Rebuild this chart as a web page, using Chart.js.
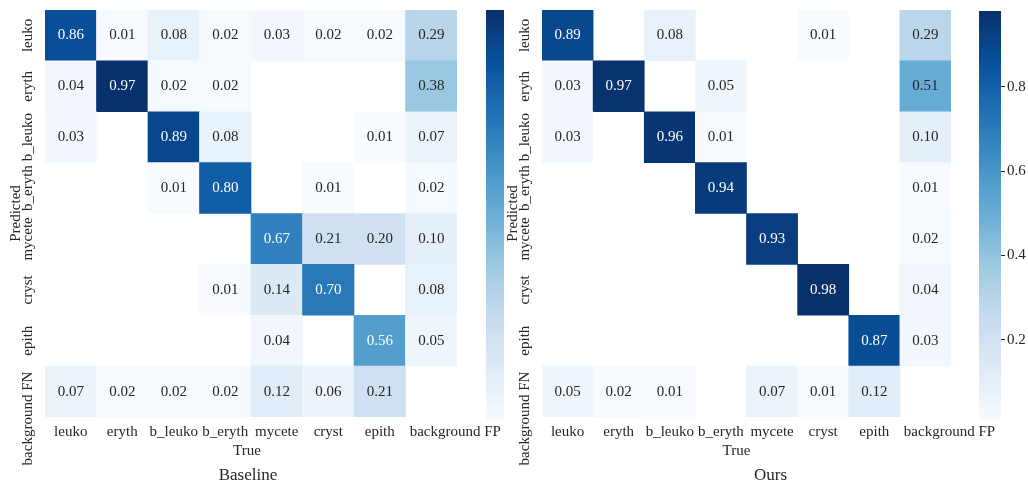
<!DOCTYPE html>
<html>
<head>
<meta charset="utf-8">
<script src="https://cdn.jsdelivr.net/npm/chart.js@4.4.1/dist/chart.umd.min.js"></script>
<style>
  html, body { margin: 0; padding: 0; background: #ffffff; }
  #wrap { position: relative; width: 1028px; height: 485px; overflow: hidden; }
  #wrap canvas { position: absolute; top: 0; }
</style>
</head>
<body>
<div id="wrap">
  <canvas id="cbBase" width="40" height="485" style="left:470px"></canvas>
  <canvas id="hmBase" width="510" height="485" style="left:0px"></canvas>
  <canvas id="hmOurs" width="531" height="485" style="left:497px"></canvas>
  <canvas id="cbOurs" width="68" height="485" style="left:960px"></canvas>
</div>
<script>
// Class names along the two axes
const trueLabels = ['leuko', 'eryth', 'b_leuko', 'b_eryth', 'mycete', 'cryst', 'epith', 'background FP'];
const predLabels = ['leuko', 'eryth', 'b_leuko', 'b_eryth', 'mycete', 'cryst', 'epith', 'background FN'];

// Normalised confusion matrices: one row per predicted class, one column per true class.
// null = empty cell (no samples).
const baseline = [
  [0.86, 0.01, 0.08, 0.02, 0.03, 0.02, 0.02, 0.29],
  [0.04, 0.97, 0.02, 0.02, null, null, null, 0.38],
  [0.03, null, 0.89, 0.08, null, null, 0.01, 0.07],
  [null, null, 0.01, 0.80, null, 0.01, null, 0.02],
  [null, null, null, null, 0.67, 0.21, 0.20, 0.10],
  [null, null, null, 0.01, 0.14, 0.70, null, 0.08],
  [null, null, null, null, 0.04, null, 0.56, 0.05],
  [0.07, 0.02, 0.02, 0.02, 0.12, 0.06, 0.21, null]
];
const ours = [
  [0.89, null, 0.08, null, null, 0.01, null, 0.29],
  [0.03, 0.97, null, 0.05, null, null, null, 0.51],
  [0.03, null, 0.96, 0.01, null, null, null, 0.10],
  [null, null, null, 0.94, null, null, null, 0.01],
  [null, null, null, null, 0.93, null, null, 0.02],
  [null, null, null, null, null, 0.98, null, 0.04],
  [null, null, null, null, null, null, 0.87, 0.03],
  [0.05, 0.02, 0.01, null, 0.07, 0.01, 0.12, null]
];

// Colour bar tick values
const colorbarTicks = [0.2, 0.4, 0.6, 0.8];

const FONT = "'Liberation Serif', 'Times New Roman', serif";
const TEXT = '#262626';
Chart.defaults.font.family = FONT;
Chart.defaults.font.size = 15;
Chart.defaults.color = TEXT;

// "Blues" sequential colour map anchors
const BLUES = [
  [247, 251, 255], [222, 235, 247], [198, 219, 239], [158, 202, 225], [107, 174, 214],
  [66, 146, 198], [33, 113, 181], [8, 81, 156], [8, 48, 107]
];
function blues(t) {
  t = Math.min(1, Math.max(0, t));
  const p = t * (BLUES.length - 1);
  const i = Math.min(BLUES.length - 2, Math.floor(p));
  const f = p - i;
  return BLUES[i].map((v, k) => Math.round(v + (BLUES[i + 1][k] - v) * f));
}
const rgbStr = c => `rgb(${c[0]},${c[1]},${c[2]})`;
function luminance(c) {
  const l = c.map(v => { v /= 255; return v <= 0.03928 ? v / 12.92 : Math.pow((v + 0.055) / 1.055, 2.4); });
  return 0.2126 * l[0] + 0.7152 * l[1] + 0.0722 * l[2];
}
function range(matrix) {
  const vals = matrix.flat().filter(v => v !== null);
  return [Math.min(...vals), Math.max(...vals)];
}

// Draws cell values, rotated row labels, column labels and panel captions
const heatmapText = {
  id: 'heatmapText',
  afterDatasetsDraw(chart, args, opts) {
    const { ctx, chartArea } = chart;
    const xs = chart.scales.x, ys = chart.scales.y;
    ctx.save();
    ctx.font = `15px ${FONT}`;
    ctx.textAlign = 'center';
    ctx.textBaseline = 'middle';

    chart.data.datasets.forEach((ds, di) => {
      chart.getDatasetMeta(di).data.forEach((bar, i) => {
        const v = ds.values[i];
        if (v === null) return;
        const c = bar.getCenterPoint();
        ctx.fillStyle = ds.textColors[i];
        ctx.fillText(v.toFixed(2), c.x, c.y);
      });
    });

    ctx.fillStyle = TEXT;
    // column (true class) labels
    trueLabels.forEach((lab, i) => {
      const dx = i === trueLabels.length - 1 ? opts.lastColShift : 0;
      ctx.fillText(lab, xs.getPixelForTick(i) + dx, chartArea.bottom + 15);
    });
    // row (predicted class) labels, reading bottom to top
    predLabels.forEach((lab, r) => {
      const dy = r === predLabels.length - 1 ? opts.lastRowShift : 0;
      const y = ys.getPixelForValue(predLabels.length - r - 0.5) + dy;
      ctx.save();
      ctx.translate(chartArea.left - 17, y);
      ctx.rotate(-Math.PI / 2);
      ctx.fillText(lab, 0, 0);
      ctx.restore();
    });
    const mid = (chartArea.left + chartArea.right) / 2;
    ctx.fillText('True', mid + opts.axisTitleDx, chartArea.bottom + 34);
    ctx.font = `17px ${FONT}`;
    ctx.fillText(opts.caption, mid + opts.captionDx, chart.height - 9);
    ctx.restore();
  }
};

function heatmap(id, matrix, caption, padRight, axisTitleDx, captionDx) {
  const [vmin, vmax] = range(matrix);
  const norm = v => (v - vmin) / (vmax - vmin);
  // stacked bars build up from the bottom, so the last predicted row goes first
  const datasets = predLabels.map((p, r) => {
    const colors = matrix[r].map(v => v === null ? null : blues(norm(v)));
    return {
      label: p,
      data: trueLabels.map(() => 1),
      values: matrix[r],
      backgroundColor: colors.map(c => c === null ? 'rgba(255,255,255,0)' : rgbStr(c)),
      textColors: colors.map(c => c !== null && luminance(c) < 0.335 ? '#ffffff' : TEXT),
      borderWidth: 0,
      barPercentage: 1,
      categoryPercentage: 1
    };
  }).reverse();

  return new Chart(document.getElementById(id), {
    type: 'bar',
    data: { labels: trueLabels, datasets },
    plugins: [heatmapText],
    options: {
      responsive: false,
      animation: false,
      events: [],
      layout: { padding: { top: 10, left: 0, right: padRight, bottom: 44 } },
      plugins: {
        legend: { display: false },
        tooltip: { enabled: false },
        heatmapText: { caption, axisTitleDx, captionDx, lastColShift: 24, lastRowShift: 27 }
      },
      scales: {
        x: {
          stacked: true,
          grid: { display: false, drawTicks: false },
          border: { display: false },
          ticks: { color: 'rgba(0,0,0,0)', padding: 3, maxRotation: 0, minRotation: 0, autoSkip: false }
        },
        y: {
          stacked: true,
          min: 0,
          max: predLabels.length,
          grid: { display: false, drawTicks: false },
          border: { display: false },
          ticks: { display: false },
          title: { display: true, text: 'Predicted', color: TEXT, font: { size: 15 }, padding: { top: 7, bottom: 0 } },
          afterFit: s => { s.width = 45; }
        }
      }
    }
  });
}

function colorbar(id, matrix, showTicks, padLeft, padRight) {
  const [vmin, vmax] = range(matrix);
  return new Chart(document.getElementById(id), {
    type: 'bar',
    data: {
      labels: [''],
      datasets: [{
        data: [[vmin, vmax]],
        borderWidth: 0,
        barPercentage: 1,
        categoryPercentage: 1,
        backgroundColor: ctx => {
          const ys = ctx.chart.scales.y;
          const fallback = rgbStr(BLUES[4]);
          if (!ys) return fallback;
          const y0 = ys.getPixelForValue(vmin), y1 = ys.getPixelForValue(vmax);
          if (!isFinite(y0) || !isFinite(y1) || y0 === y1) return fallback;
          const g = ctx.chart.ctx.createLinearGradient(0, y0, 0, y1);
          BLUES.forEach((c, i) => g.addColorStop(i / (BLUES.length - 1), rgbStr(c)));
          return g;
        }
      }]
    },
    options: {
      responsive: false,
      animation: false,
      events: [],
      layout: { padding: { top: 10, bottom: 65, left: padLeft, right: padRight } },
      plugins: { legend: { display: false }, tooltip: { enabled: false } },
      scales: {
        x: { display: false },
        y: {
          display: showTicks,
          position: 'right',
          min: vmin,
          max: vmax,
          afterBuildTicks: s => { s.ticks = colorbarTicks.map(v => ({ value: v })); },
          afterFit: s => { s.width = showTicks ? 27 : 0; },
          grid: { display: true, drawOnChartArea: false, drawTicks: true, tickLength: 4, color: TEXT },
          border: { display: false },
          ticks: { padding: 2, color: TEXT, font: { size: 15 }, callback: v => v.toFixed(1) }
        }
      }
    }
  });
}

colorbar('cbBase', baseline, false, 16, 6);
heatmap('hmBase', baseline, 'Baseline', 53, -4, -3);
heatmap('hmOurs', ours, 'Ours', 77, -10, 24);
colorbar('cbOurs', ours, true, 19, 0);
</script>
</body>
</html>
